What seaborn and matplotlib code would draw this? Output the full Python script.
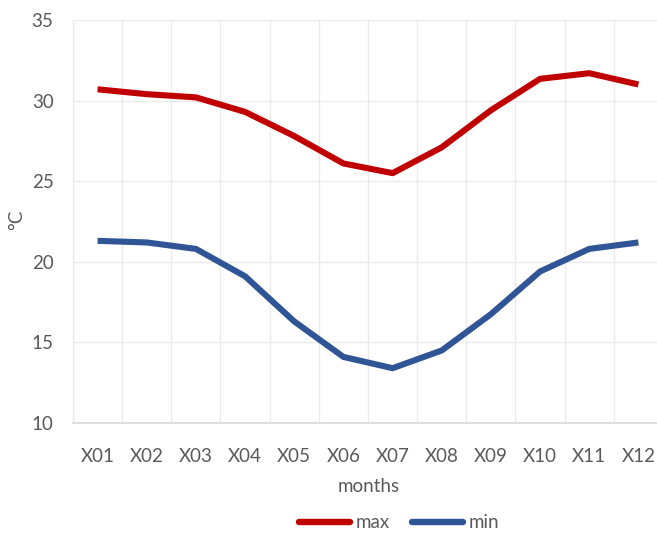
import matplotlib
matplotlib.use("Agg")
import matplotlib.pyplot as plt
import seaborn as sns
import pandas as pd
from matplotlib.lines import Line2D

months = ["X01", "X02", "X03", "X04", "X05", "X06",
          "X07", "X08", "X09", "X10", "X11", "X12"]
t_max = [30.7, 30.4, 30.2, 29.3, 27.8, 26.1, 25.5, 27.1, 29.4, 31.35, 31.7, 31.0]
t_min = [21.3, 21.2, 20.8, 19.1, 16.3, 14.1, 13.4, 14.5, 16.75, 19.4, 20.8, 21.2]
series_names = ["max", "min"]
series_colors = ["#C00000", "#2F5597"]

df = pd.DataFrame({
    "months": months * 2,
    "value": t_max + t_min,
    "series": [series_names[0]] * len(months) + [series_names[1]] * len(months),
})

sns.set_theme(style="white")
plt.rcParams["font.family"] = ["Lato", "DejaVu Sans"]

text_color = "#595959"
grid_color = "#EBEBEB"
axis_color = "#D9D9D9"

fig = plt.figure(figsize=(6.57, 5.36), dpi=100)
ax = fig.add_axes([73 / 657, 113 / 536, 590 / 657, 403 / 536])

sns.lineplot(data=df, x="months", y="value", hue="series",
             palette=dict(zip(series_names, series_colors)),
             linewidth=4.4, ax=ax, legend=False, sort=False)
for ln in ax.lines:
    ln.set_solid_joinstyle("round")
    ln.set_solid_capstyle("butt")

ax.set_xlim(-0.5, len(months) - 0.5)
ax.set_ylim(10, 35)
ax.set_yticks([10, 15, 20, 25, 30, 35])
ax.set_xticks(range(len(months)))
ax.set_xticklabels(months)
ax.set_xticks([i - 0.5 for i in range(len(months) + 1)], minor=True)

ax.grid(axis="y", which="major", color=grid_color, linewidth=1)
ax.grid(axis="x", which="minor", color=grid_color, linewidth=1)
ax.grid(axis="x", which="major", visible=False)
ax.set_axisbelow(True)

for side in ["top", "right"]:
    ax.spines[side].set_visible(False)
ax.spines["left"].set_color(grid_color)
ax.spines["bottom"].set_color(axis_color)
ax.spines["left"].set_linewidth(1)
ax.spines["bottom"].set_linewidth(1.2)

ax.tick_params(axis="both", which="both", length=0, labelsize=13.5, colors=text_color)
ax.tick_params(axis="x", pad=18)
ax.tick_params(axis="y", pad=14)

ax.set_xlabel("months", fontsize=13.5, color=text_color)
ax.xaxis.set_label_coords((369 - 73) / 590, -(478 - 423) / 403)
ax.set_ylabel("°C", fontsize=13.5, color=text_color)
ax.yaxis.set_label_coords((25 - 73) / 590, (423 - 220) / 403)

handles = [Line2D([0], [0], color=c, linewidth=4.6) for c in series_colors]
fig.legend(handles, series_names, loc="center", bbox_to_anchor=(399 / 657, 1 - 523 / 536),
           ncol=2, frameon=False, fontsize=13.5, labelcolor=text_color,
           handlelength=2.7, handletextpad=0.3, columnspacing=1.2)

fig.savefig("out.png", dpi=100)
